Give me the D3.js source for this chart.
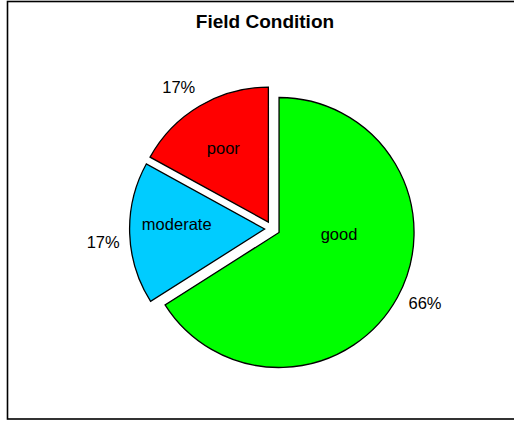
<!DOCTYPE html>
<html>
<head>
<meta charset="utf-8">
<script src="https://cdn.jsdelivr.net/npm/d3@7"></script>
<style>
  html, body { margin: 0; padding: 0; background: #fff; }
  svg { display: block; }
  text { font-family: "Liberation Sans", Arial, sans-serif; fill: #000; }
</style>
</head>
<body>
<svg id="chart" width="514" height="421"></svg>
<script>
// Field condition shares (percent), clockwise from 12 o'clock
const categories = ["good", "moderate", "poor"];
const shares = [66, 17, 17];
const sliceColors = ["#00ff00", "#00ccff", "#ff0000"];
const chartTitle = "Field Condition";

// Layout
const W = 514, H = 421;
const cx = 272.3, cy = 228.8, radius = 135, explode = 7.7;
// where each label sits: t = fraction across the slice's angle, r = distance from slice apex
const nameLabelAt = [{ t: 0.385, r: 60 }, { t: 0.58, r: 88 }, { t: 0.49, r: 87 }];
const pctLabelAt = [{ t: 0.487, r: 162 }, { t: 0.451, r: 162 }, { t: 0.451, r: 162 }];

const svg = d3.select("#chart");

// frame
svg.append("rect")
  .attr("x", 7.5).attr("y", 1.5)
  .attr("width", 530).attr("height", 417.5)
  .attr("fill", "#fff")
  .attr("stroke", "#000")
  .attr("stroke-width", 1.6);

svg.append("text")
  .attr("x", 265).attr("y", 28)
  .attr("text-anchor", "middle")
  .attr("font-size", 19)
  .attr("font-weight", "bold")
  .text(chartTitle);

const data = categories.map((c, i) => ({ name: c, value: shares[i], color: sliceColors[i] }));
const pie = d3.pie().sort(null).value(d => d.value).startAngle(0).endAngle(2 * Math.PI);
const arcs = pie(data);
const arc = d3.arc().innerRadius(0).outerRadius(radius);

const pt = (a, r) => [r * Math.sin(a), -r * Math.cos(a)];

const slices = svg.append("g").attr("transform", `translate(${cx},${cy})`)
  .selectAll("g.slice")
  .data(arcs)
  .join("g")
  .attr("class", "slice")
  .attr("transform", d => {
    const [dx, dy] = pt((d.startAngle + d.endAngle) / 2, explode);
    return `translate(${dx},${dy})`;
  });

slices.append("path")
  .attr("d", arc)
  .attr("fill", d => d.data.color)
  .attr("stroke", "#000")
  .attr("stroke-width", 1.3)
  .attr("stroke-linejoin", "miter");

slices.append("text")
  .attr("text-anchor", "middle")
  .attr("dy", "0.35em")
  .attr("font-size", 16.5)
  .attr("transform", (d, i) => {
    const p = nameLabelAt[i];
    const [x, y] = pt(d.startAngle + p.t * (d.endAngle - d.startAngle), p.r);
    return `translate(${x},${y})`;
  })
  .text(d => d.data.name);

slices.append("text")
  .attr("text-anchor", "middle")
  .attr("dy", "0.35em")
  .attr("font-size", 16.5)
  .attr("transform", (d, i) => {
    const p = pctLabelAt[i];
    const [x, y] = pt(d.startAngle + p.t * (d.endAngle - d.startAngle), p.r);
    return `translate(${x},${y})`;
  })
  .text(d => d3.format(".0f")(d.data.value) + "%");
</script>
</body>
</html>
